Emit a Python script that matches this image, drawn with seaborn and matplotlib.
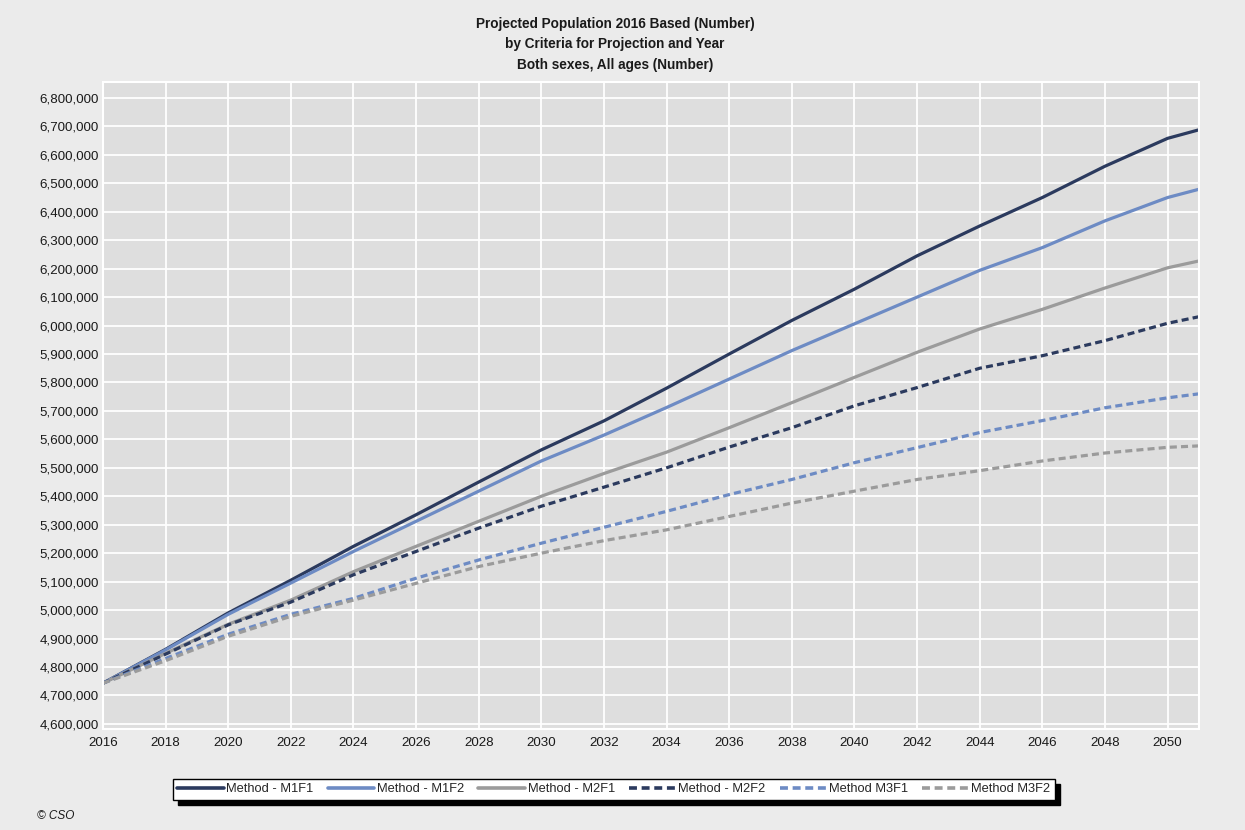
import matplotlib
matplotlib.use("Agg")
import matplotlib.pyplot as plt
import matplotlib.ticker as mticker
from matplotlib.lines import Line2D
import seaborn as sns
import pandas as pd

years = [2016, 2018, 2020, 2022, 2024, 2026, 2028, 2030, 2032, 2034, 2036,
         2038, 2040, 2042, 2044, 2046, 2048, 2050, 2051]

m1f1 = [4743, 4862, 4990, 5105, 5224, 5335, 5450, 5563, 5665, 5780, 5900,
        6018, 6128, 6245, 6350, 6450, 6560, 6658, 6688]
m1f2 = [4743, 4860, 4985, 5095, 5206, 5312, 5418, 5524, 5615, 5712, 5812,
        5912, 6006, 6100, 6194, 6274, 6368, 6450, 6479]
m2f1 = [4743, 4848, 4950, 5035, 5135, 5224, 5312, 5400, 5480, 5555, 5641,
        5729, 5818, 5906, 5988, 6057, 6132, 6203, 6227]
m2f2 = [4743, 4845, 4948, 5028, 5124, 5206, 5288, 5365, 5432, 5500, 5573,
        5641, 5718, 5782, 5850, 5894, 5947, 6008, 6031]
m3f1 = [4743, 4830, 4915, 4985, 5041, 5112, 5176, 5235, 5291, 5347, 5406,
        5459, 5518, 5571, 5624, 5666, 5711, 5746, 5760]
m3f2 = [4743, 4822, 4908, 4978, 5035, 5094, 5153, 5200, 5244, 5282, 5329,
        5376, 5418, 5459, 5490, 5524, 5552, 5572, 5577]

series_names = ["Method - M1F1", "Method - M1F2", "Method - M2F1",
                "Method - M2F2", "Method M3F1", "Method M3F2"]
series_values = [m1f1, m1f2, m2f1, m2f2, m3f1, m3f2]

rows = []
for name, vals in zip(series_names, series_values):
    for y, v in zip(years, vals):
        rows.append({"Year": y, "Population": v * 1000, "Series": name})
df = pd.DataFrame(rows)

navy = "#2B3A5E"
light = "#6D8BC4"
grey = "#9B9B9B"
palette = dict(zip(series_names, [navy, light, grey, navy, light, grey]))
dashes = dict(zip(series_names, ["", "", "", (2.2, 1.3), (2.2, 1.3), (2.2, 1.3)]))

sns.set_theme(style="darkgrid")
plt.rcParams["font.family"] = ["Liberation Sans", "DejaVu Sans"]

fig = plt.figure(figsize=(12.45, 8.3), dpi=100, facecolor="#EBEBEB")
ax = fig.add_axes([0.0827, 0.1217, 0.8803, 0.7795])
ax.set_facecolor("#DEDEDE")

sns.lineplot(data=df, x="Year", y="Population", hue="Series", style="Series",
             palette=palette, dashes=dashes, hue_order=series_names,
             style_order=series_names, linewidth=2.3, ax=ax, legend=False)

ax.set_xlim(2016, 2051)
ax.set_ylim(4582000, 6856000)
ax.xaxis.set_major_locator(mticker.MultipleLocator(2))
ax.yaxis.set_major_locator(mticker.MultipleLocator(100000))
ax.yaxis.set_major_formatter(mticker.FuncFormatter(lambda v, p: f"{int(round(v)):,}"))
ax.grid(True, color="white", linewidth=1.3)
ax.tick_params(axis="both", labelsize=9.6, colors="#1a1a1a", length=0)
ax.tick_params(axis="x", pad=6)
ax.tick_params(axis="y", pad=3)
ax.set_xlabel("")
ax.set_ylabel("")
for s in ax.spines.values():
    s.set_visible(True)
    s.set_color("white")
    s.set_linewidth(1.5)

fig.text(0.494, 0.979,
         "Projected Population 2016 Based (Number)\nby Criteria for Projection and Year\nBoth sexes, All ages (Number)",
         ha="center", va="top", fontsize=9.8, fontweight="bold", color="#1a1a1a",
         linespacing=1.55)

handles = [Line2D([0], [0], color=palette[n], lw=2.6,
                  linestyle="-" if dashes[n] == "" else (0, dashes[n]))
           for n in series_names]
leg = fig.legend(handles, series_names, loc="center", bbox_to_anchor=(0.493, 0.049),
                 ncol=6, frameon=True, fancybox=False,
                 shadow={"color": "black", "alpha": 1, "ox": 4, "oy": -4},
                 fontsize=9.3, handlelength=3.6, handletextpad=0.2, columnspacing=1.1,
                 borderpad=0.35, facecolor="white", edgecolor="black")
leg.get_frame().set_linewidth(1.0)

fig.text(0.030, 0.010, "© CSO", fontsize=8.5, style="italic", color="#1a1a1a",
         ha="left", va="bottom")

fig.savefig("out.png", dpi=100, facecolor=fig.get_facecolor())
